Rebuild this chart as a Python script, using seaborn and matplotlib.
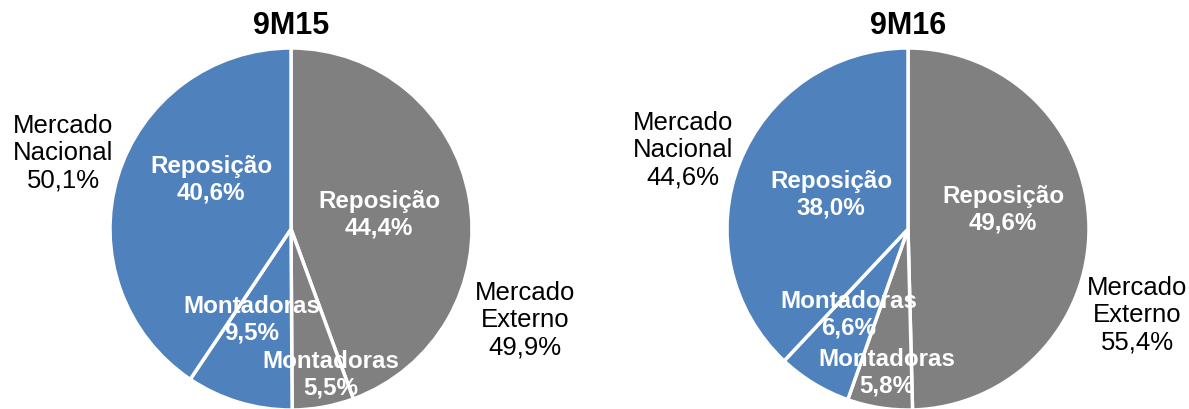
import matplotlib
matplotlib.use("Agg")
import matplotlib.pyplot as plt
import seaborn as sns

# data
periods = ["9M15", "9M16"]
segments = ["Reposição", "Montadoras", "Montadoras", "Reposição"]
shares_9m15 = [44.4, 5.5, 9.5, 40.6]   # externo rep, externo mont, nacional mont, nacional rep
shares_9m16 = [49.6, 5.8, 6.6, 38.0]
mercado_nacional = [50.1, 44.6]
mercado_externo = [49.9, 55.4]

sns.set_style("white")
plt.rcParams["font.family"] = ["Liberation Sans", "DejaVu Sans"]

blue = "#4F81BD"
grey = "#808080"
colors = [grey, grey, blue, blue]

W, H = 1189, 410
fig = plt.figure(figsize=(W / 100, H / 100), dpi=100)
ax = fig.add_axes([0, 0, 1, 1])
ax.set_xlim(0, W)
ax.set_ylim(0, H)
ax.set_aspect("equal")
ax.axis("off")


def fmt(v):
    return f"{v:.1f}".replace(".", ",") + "%"


# layout (image pixels, y measured from top)
centers = [(291, 230), (908, 230)]
radius = 181
inner_pos = [
    [(379, 215), (331, 375), (252, 320), (211, 180)],
    [(1003, 210), (887, 373), (849, 315), (831, 195)],
]
nacional_pos = [(63, 153), (683, 150)]
externo_pos = [(525, 320), (1137, 315)]

for i, shares in enumerate([shares_9m15, shares_9m16]):
    cx, cy = centers[i]
    wedges, _ = ax.pie(shares, colors=colors, startangle=90, counterclock=False,
                       center=(cx, H - cy), radius=radius, frame=True,
                       wedgeprops=dict(edgecolor="white", linewidth=2.5))
    for w in wedges:
        w.set_clip_on(False)
    for j, v in enumerate(shares):
        x, y = inner_pos[i][j]
        ax.text(x, H - y, f"{segments[j]}\n{fmt(v)}", ha="center", va="center",
                color="white", fontsize=17.4, fontweight="bold", linespacing=1.22, zorder=5)
    ax.text(cx, H - 26, periods[i], ha="center", va="center",
            fontsize=22, fontweight="bold", color="black")
    x, y = nacional_pos[i]
    ax.text(x, H - y, f"Mercado\nNacional\n{fmt(mercado_nacional[i])}", ha="center",
            va="center", fontsize=18.5, linespacing=1.16, color="black")
    x, y = externo_pos[i]
    ax.text(x, H - y, f"Mercado\nExterno\n{fmt(mercado_externo[i])}", ha="center",
            va="center", fontsize=18.5, linespacing=1.16, color="black")

ax.set_xlim(0, W)
ax.set_ylim(0, H)
ax.axis("off")
fig.savefig("out.png", dpi=100)
